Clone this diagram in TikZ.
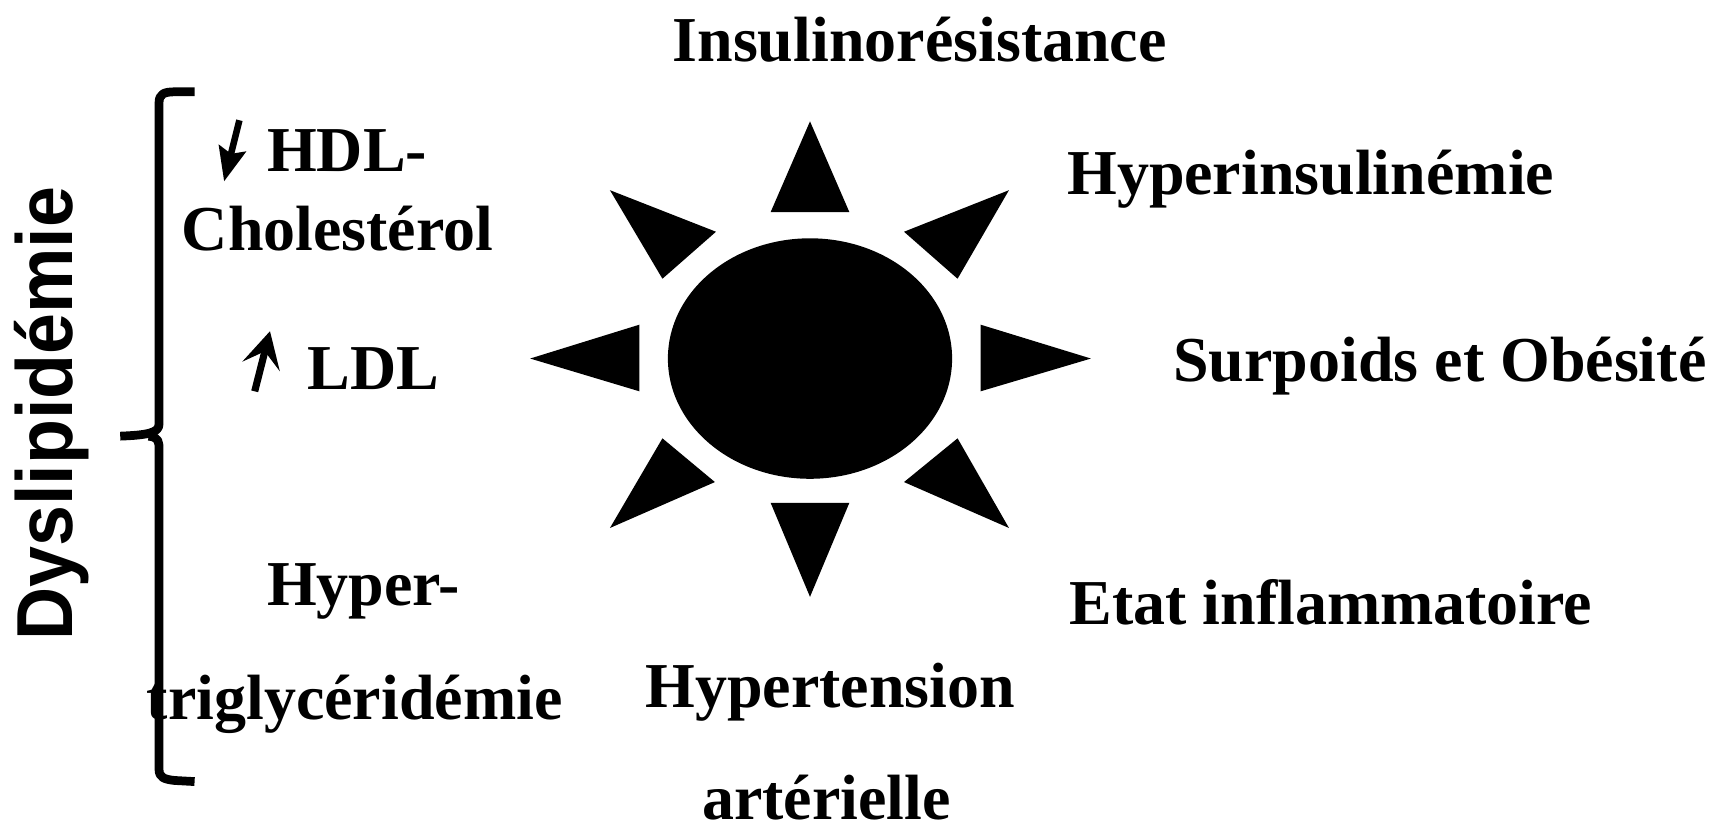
\documentclass[tikz,border=0pt]{standalone}
\usepackage{fontspec}
\setmainfont{Liberation Serif}
\setsansfont{Liberation Sans}
\usetikzlibrary{arrows.meta,shapes.geometric}
\tikzset{
  risklabel/.style={font=\fontsize{33.3}{36}\selectfont\bfseries, anchor=base west, inner sep=0pt, text=black},
  sidelabel/.style={font=\fontsize{38.3}{40}\selectfont\sffamily\bfseries, anchor=base, inner sep=0pt, rotate=90, yscale=1.08},
  sunbody/.style={draw=none, fill=black, ellipse, inner sep=0pt, minimum width=5.2cm, minimum height=4.4cm},
  sunray/.style={fill=black},
  lipidbrace/.style={line width=1.6mm, line join=round},
  downarrow/.style={line width=1.2mm, -{Stealth[length=6.2mm, width=5mm, inset=1mm]}},
  uparrow/.style={line width=1.3mm, -{Stealth[length=6.6mm, width=7mm, inset=2.8mm]}},
}
\begin{document}
\begin{tikzpicture}[x=0.2mm, y=-0.2mm]
\useasboundingbox (0,0) rectangle (1568,756);

%% Sun
\node[sunbody] (sun) at (741,328) {};
\foreach \ax/\ay/\bx/\by/\cx/\cy in {741/111/705/194/777/194, 741/546/705/460/777/460,
    485/328/585/297/585/358, 998/328/897/297/897/358,
    558/174/655/212/606/255, 923/174/827/212/876/255,
    558/483/654/441/606/401, 923/483/827/441/876/401}
  \fill[sunray] (\ax,\ay) -- (\bx,\by) -- (\cx,\cy) -- cycle;

%% Labels around the sun
\node[risklabel] (insulinres) at (615,56)  {Insulinorésistance};
\node[risklabel] (hyperins)   at (976,178) {Hyperinsulinémie};
\node[risklabel] (obesite)    at (1073,349) {Surpoids et Obésité};
\node[risklabel] (inflamm)    at (978,571) {Etat inflammatoire};
\node[risklabel] (hta1)       at (590,647) {Hypertension};
\node[risklabel] (hta2)       at (642,750) {artérielle};

%% Lipids
\node[risklabel] (hdl)   at (244,157) {HDL-};
\node[risklabel] (chol)  at (166,229) {Cholestérol};
\node[risklabel] (ldl)   at (281,356) {LDL};
\node[risklabel] (tg1)   at (244,554) {Hyper-};
\node[risklabel] (tg2)   at (134,658) {triglycéridémie};
\node[sidelabel] (dyslip) at (66,378.5) {Dyslipidémie};

\coordinate (hdlstart) at (219,110);
\coordinate (hdlend)   at (205,166);
\coordinate (ldlstart) at (233,358);
\coordinate (ldlend)   at (247,303);
\draw[downarrow] (hdlstart) -- (hdlend);
\draw[uparrow] (ldlstart) -- (ldlend);

\draw[lipidbrace] (178,84) -- (160,84) .. controls (150,84) and (145.5,86) .. (145.5,94)
  -- (145.5,388) .. controls (145.5,396) and (135,398) .. (110,399);
\draw[lipidbrace] (136,399) .. controls (145.5,400) and (145.5,404) .. (145.5,412)
  -- (145.5,704) .. controls (145.5,711) and (150,713) .. (160,714) -- (178,715);
\end{tikzpicture}
\end{document}
